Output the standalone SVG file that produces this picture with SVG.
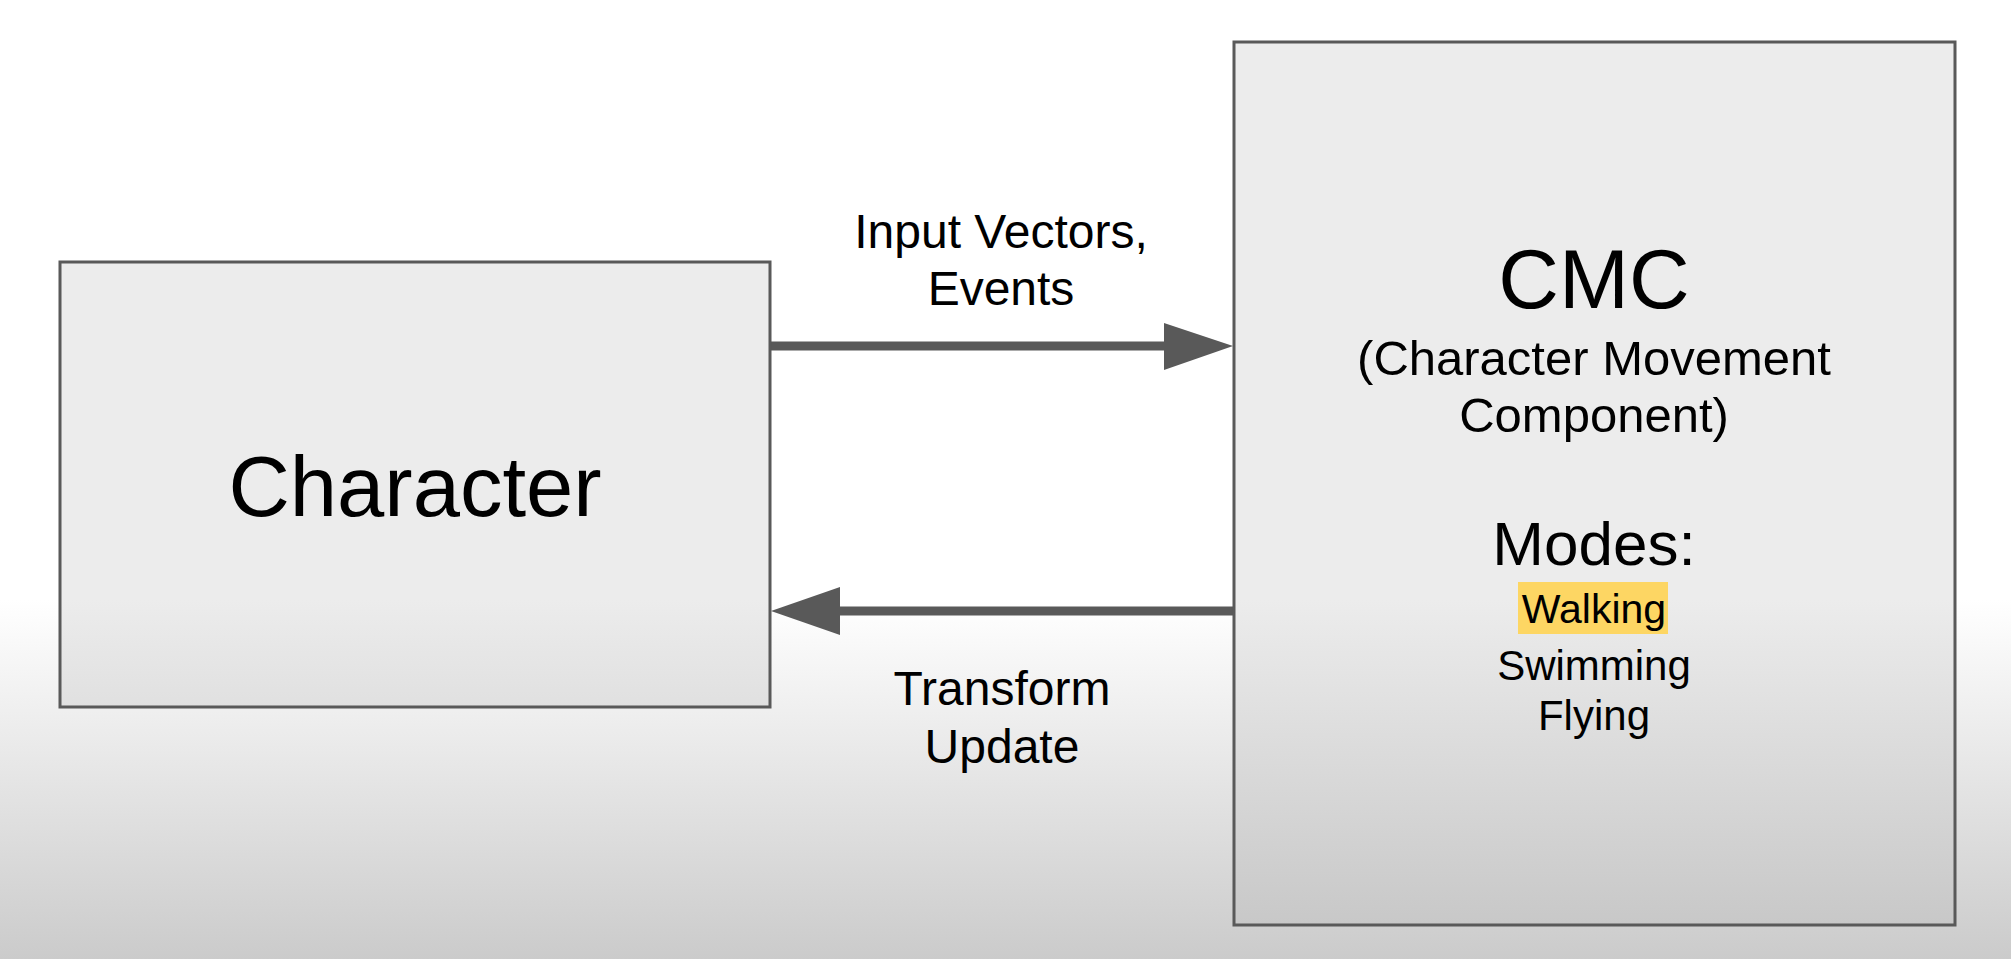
<svg xmlns="http://www.w3.org/2000/svg" width="2011" height="959" viewBox="0 0 2011 959">
  <defs>
    <linearGradient id="bg" x1="0" y1="600" x2="0" y2="959" gradientUnits="userSpaceOnUse">
      <stop offset="0" stop-color="#ffffff"/>
      <stop offset="1" stop-color="#cbcbcb"/>
    </linearGradient>
    <linearGradient id="boxfill" x1="0" y1="600" x2="0" y2="925" gradientUnits="userSpaceOnUse">
      <stop offset="0" stop-color="#ececec"/>
      <stop offset="1" stop-color="#c8c8c8"/>
    </linearGradient>
  </defs>
  <style>
    .box { fill: url(#boxfill); stroke: #595959; stroke-width: 3; }
    .conn { stroke: #595959; stroke-width: 9; fill: none; }
    .head { fill: #595959; }
    text { font-family: "Liberation Sans", Arial, sans-serif; fill: #000; text-anchor: middle; }
    .lbl { font-size: 48px; }
  </style>
  <rect x="0" y="0" width="2011" height="959" fill="url(#bg)"/>

  <g id="connectors">
    <line class="conn" x1="771" y1="346" x2="1168" y2="346"/>
    <polygon class="head" points="1164,323 1233,346 1164,370"/>
    <line class="conn" x1="1233" y1="611" x2="836" y2="611"/>
    <polygon class="head" points="840,587 771,611 840,635"/>
    <text class="lbl" x="1001" y="248">Input Vectors,</text>
    <text class="lbl" x="1001" y="305">Events</text>
    <text class="lbl" x="1002" y="705">Transform</text>
    <text class="lbl" x="1002" y="763">Update</text>
  </g>

  <g id="character">
    <rect class="box" x="60" y="262" width="710" height="445"/>
    <text x="415" y="516" font-size="85">Character</text>
  </g>

  <g id="cmc">
    <rect class="box" x="1234" y="42" width="721" height="883"/>
    <text x="1594" y="308" font-size="84">CMC</text>
    <text x="1594" y="375" font-size="49">(Character Movement</text>
    <text x="1594" y="432" font-size="49">Component)</text>
    <text x="1594" y="565" font-size="62">Modes:</text>
    <rect x="1518" y="582" width="150" height="52" fill="#fdd663"/>
    <text x="1594" y="623" font-size="41">Walking</text>
    <text x="1594" y="680" font-size="42">Swimming</text>
    <text x="1594" y="730" font-size="42">Flying</text>
  </g>
</svg>
